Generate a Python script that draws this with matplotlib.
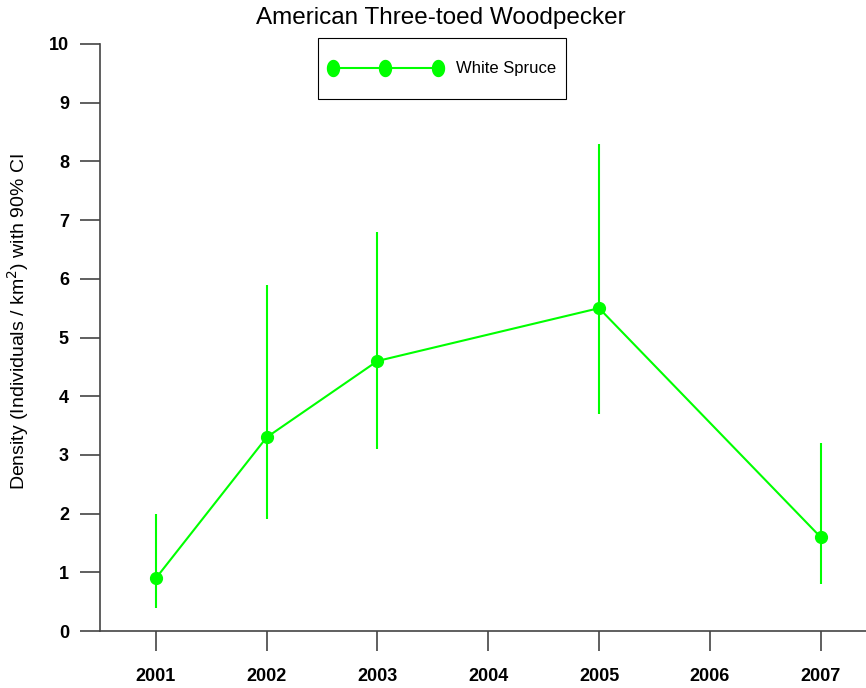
import matplotlib.pyplot as plt
from matplotlib.path import Path
import numpy as np

# Data
years = [2001, 2002, 2003, 2005, 2007]
density = [0.9, 3.3, 4.6, 5.5, 1.6]
ci_low = [0.4, 1.9, 3.1, 3.7, 0.8]
ci_high = [2.0, 5.9, 6.8, 8.3, 3.2]
xtick_years = [2001, 2002, 2003, 2004, 2005, 2006, 2007]

green = '#00ff00'
axis_grey = '#444444'

plt.rcParams['font.family'] = ['Liberation Sans', 'DejaVu Sans']

fig = plt.figure(figsize=(8.66, 6.88), dpi=100)
ax = fig.add_axes([100/866, 57/688, 766/866, 587/688])

# error bars as plain vertical lines
yerr = [[d - lo for d, lo in zip(density, ci_low)],
        [hi - d for d, hi in zip(density, ci_high)]]
ax.errorbar(years, density, yerr=yerr, fmt='none', ecolor=green,
            elinewidth=1.5, capsize=0, zorder=2)
ax.plot(years, density, color=green, lw=1.5, marker='o', markersize=8.5,
        label='White Spruce', zorder=3)

ax.set_xlim(2000.495, 2007.41)
ax.set_ylim(0, 10)
ax.set_xticks(xtick_years)
ax.set_yticks(range(0, 11))

# axes style
for s in ['top', 'right']:
    ax.spines[s].set_visible(False)
for s in ['left', 'bottom']:
    ax.spines[s].set_color(axis_grey)
    ax.spines[s].set_linewidth(1.2)
ax.tick_params(axis='both', direction='out', length=14.4, width=1.2,
               color=axis_grey, labelsize=13)
ax.tick_params(axis='x', pad=12)
ax.tick_params(axis='y', pad=8)
for lab in ax.get_xticklabels() + ax.get_yticklabels():
    lab.set_fontweight('bold')

# legend (markers look like tall ellipses in the original)
leg = ax.legend(loc='center', bbox_to_anchor=(0.4465, 0.958), numpoints=3,
                handlelength=6.95, handleheight=3.4, fancybox=False,
                framealpha=1, edgecolor='black', borderpad=0.6,
                handletextpad=0.78, prop={'size': 12})
leg.get_frame().set_linewidth(0.8)
t = np.linspace(0, 2*np.pi, 40)
ellipse = Path(np.column_stack([0.75*np.cos(t), np.sin(t)]), closed=True)
for h in leg.legend_handles:
    h.set_marker(ellipse)
    h.set_markersize(11.5)
    # line it up with the label text
    h.set_ydata(np.asarray(h.get_ydata()) - 5.0)

# title and y label
fig.text(441/866, 1 - 18/688, 'American Three-toed Woodpecker',
         ha='center', va='center', fontsize=17.5)
fig.text(18/866, 1 - 322/688,
         'Density (Individuals / km$^{2}$) with 90% CI',
         ha='center', va='center', rotation=90, fontsize=14)

plt.savefig('out.png', dpi=100)
